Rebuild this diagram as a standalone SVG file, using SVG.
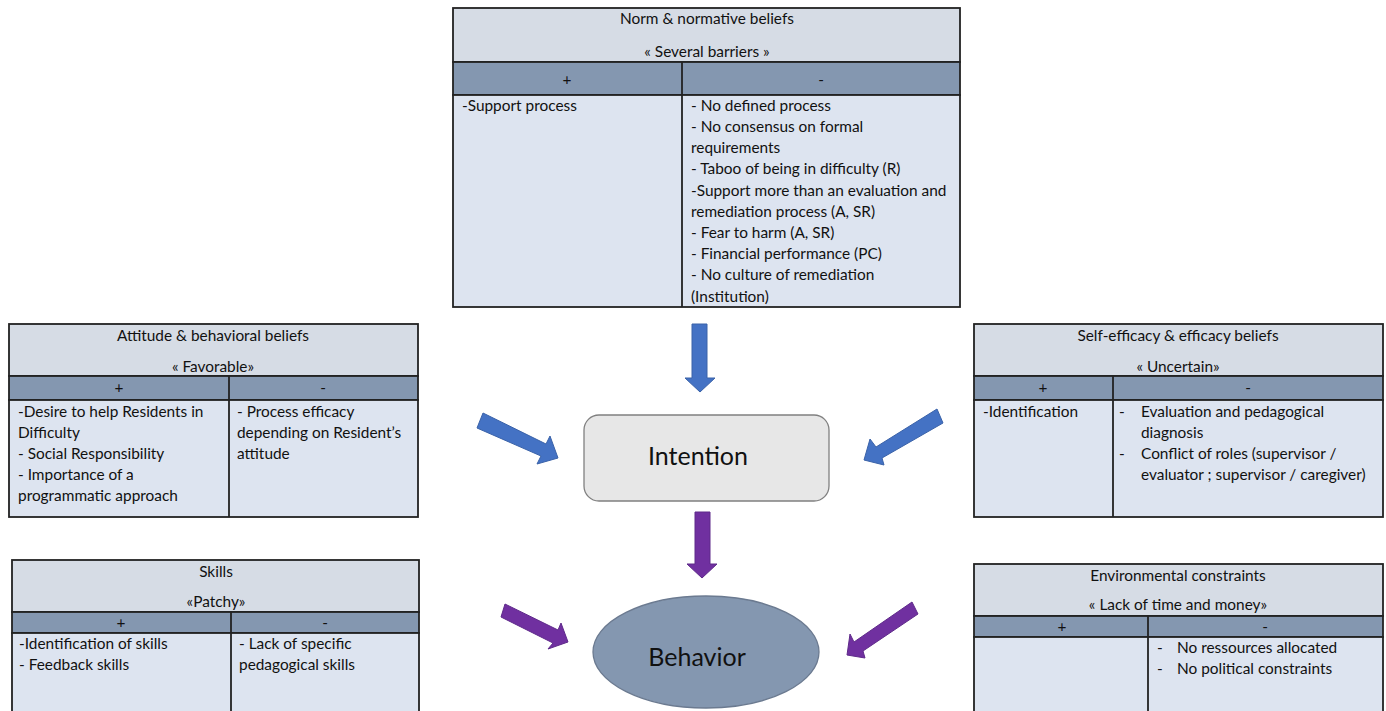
<svg xmlns="http://www.w3.org/2000/svg" width="1386" height="711" viewBox="0 0 1386 711">
<style>
text{font-family:Lato,"Liberation Sans",Arial,sans-serif;font-size:15.4px;fill:#111}
.c{text-anchor:middle}
.hd{fill:#d6dce5;stroke:#222;stroke-width:1.8}
.sg{fill:#8497b0;stroke:#222;stroke-width:1.8}
.bd{fill:#dde4f0;stroke:#222;stroke-width:1.8}
.ln{stroke:#222;stroke-width:1.8}
.blue{fill:#4472c4;stroke:#3a62a8;stroke-width:1}
.purple{fill:#7030a0;stroke:#5f2a8a;stroke-width:1}
.big{font-size:25px}
</style>
<rect width="1386" height="711" fill="#fff"/>

<g id="norm">
<rect class="hd" x="453" y="8" width="507" height="54"/>
<rect class="sg" x="453" y="62" width="507" height="33"/>
<rect class="bd" x="453" y="95" width="507" height="212"/>
<line class="ln" x1="682" y1="62" x2="682" y2="307"/>
<text class="c" x="707" y="24">Norm &amp; normative beliefs</text>
<text class="c" x="707" y="57">« Several barriers »</text>
<text class="c" x="567" y="85">+</text>
<text class="c" x="821" y="85">-</text>
<text x="462" y="111">-Support process</text>
<text x="691" y="111">- No defined process</text>
<text x="691" y="132">- No consensus on formal</text>
<text x="691" y="153">requirements</text>
<text x="691" y="174">- Taboo of being in difficulty (R)</text>
<text x="691" y="196">-Support more than an evaluation and</text>
<text x="691" y="217">remediation process (A, SR)</text>
<text x="691" y="238">- Fear to harm (A, SR)</text>
<text x="691" y="259">- Financial performance (PC)</text>
<text x="691" y="280">- No culture of remediation</text>
<text x="691" y="302">(Institution)</text>
</g>

<g id="attitude">
<rect class="hd" x="9" y="324" width="409" height="52"/>
<rect class="sg" x="9" y="376" width="409" height="24"/>
<rect class="bd" x="9" y="400" width="409" height="117"/>
<line class="ln" x1="229" y1="376" x2="229" y2="517"/>
<text class="c" x="213" y="341">Attitude &amp; behavioral beliefs</text>
<text class="c" x="213" y="372">« Favorable»</text>
<text class="c" x="119" y="393">+</text>
<text class="c" x="323" y="393">-</text>
<text x="18" y="417">-Desire to help Residents in</text>
<text x="18" y="438">Difficulty</text>
<text x="18" y="459">- Social Responsibility</text>
<text x="18" y="480">- Importance of a</text>
<text x="18" y="501">programmatic approach</text>
<text x="237" y="417">- Process efficacy</text>
<text x="237" y="438">depending on Resident’s</text>
<text x="237" y="459">attitude</text>
</g>

<g id="selfefficacy">
<rect class="hd" x="974" y="324" width="409" height="52"/>
<rect class="sg" x="974" y="376" width="409" height="24"/>
<rect class="bd" x="974" y="400" width="409" height="117"/>
<line class="ln" x1="1113" y1="376" x2="1113" y2="517"/>
<text class="c" x="1178" y="341">Self-efficacy &amp; efficacy beliefs</text>
<text class="c" x="1178" y="372">« Uncertain»</text>
<text class="c" x="1043" y="393">+</text>
<text class="c" x="1248" y="393">-</text>
<text x="983" y="417">-Identification</text>
<text x="1119" y="417">-</text>
<text x="1141" y="417">Evaluation and pedagogical</text>
<text x="1141" y="438">diagnosis</text>
<text x="1119" y="459">-</text>
<text x="1141" y="459">Conflict of roles (supervisor /</text>
<text x="1141" y="480">evaluator ; supervisor / caregiver)</text>
</g>

<g id="skills">
<rect class="hd" x="12" y="560" width="407" height="52"/>
<rect class="sg" x="12" y="612" width="407" height="21"/>
<rect class="bd" x="12" y="633" width="407" height="90"/>
<line class="ln" x1="231" y1="612" x2="231" y2="723"/>
<text class="c" x="216" y="577">Skills</text>
<text class="c" x="216" y="607">«Patchy»</text>
<text class="c" x="121" y="628">+</text>
<text class="c" x="325" y="628">-</text>
<text x="19" y="649">-Identification of skills</text>
<text x="19" y="670">- Feedback skills</text>
<text x="239" y="649">- Lack of specific</text>
<text x="239" y="670">pedagogical skills</text>
</g>

<g id="environment">
<rect class="hd" x="974" y="564" width="409" height="52"/>
<rect class="sg" x="974" y="616" width="409" height="21"/>
<rect class="bd" x="974" y="637" width="409" height="90"/>
<line class="ln" x1="1148" y1="616" x2="1148" y2="727"/>
<text class="c" x="1178" y="581">Environmental constraints</text>
<text class="c" x="1178" y="610">« Lack of time and money»</text>
<text class="c" x="1062" y="632">+</text>
<text class="c" x="1265" y="632">-</text>
<text x="1157" y="653">-</text>
<text x="1177" y="653">No ressources allocated</text>
<text x="1157" y="674">-</text>
<text x="1177" y="674">No political constraints</text>
</g>

<g id="intention">
<rect x="584" y="415" width="245" height="86" rx="15" ry="15" fill="#e7e7e7" stroke="#808080" stroke-width="1.3"/>
<text class="c big" x="698" y="465">Intention</text>
</g>

<g id="behavior">
<ellipse cx="706" cy="652" rx="113" ry="56" fill="#8497b0" stroke="#6b7a90" stroke-width="1.3"/>
<text class="c big" x="697" y="666">Behavior</text>
</g>

<g id="connectors">
<polygon class="blue" points="692,324 707,324 707,378 715,378 700,392 685,378 692,378"/>
<polygon class="purple" points="695,512 710,512 710,564 717,564 702,578 687,564 695,564"/>
<polygon class="blue" points="483,413 546,444 550,436 558,458 537,464 541,456 477,428"/>
<polygon class="blue" points="937,409 943,423 882,458 884,465 864,460 870,439 876,447"/>
<polygon class="purple" points="505,604 558,630 561,623 568,642 548,649 553,643 501,617"/>
<polygon class="purple" points="912,602 918,614 863,651 865,658 847,655 850,634 854,642"/>
</g>
</svg>
